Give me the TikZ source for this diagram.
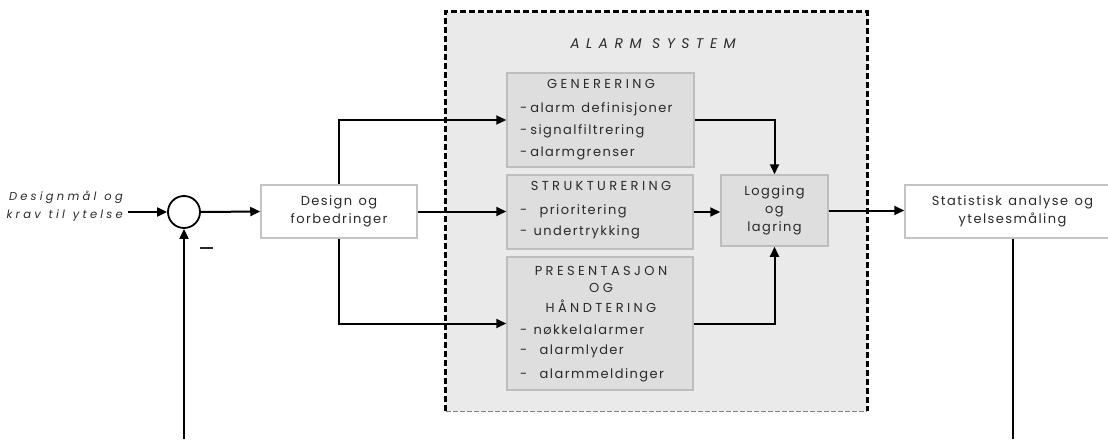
\documentclass[tikz,border=0pt]{standalone}
\usepackage{fontspec}
\setmainfont{Poppins}[LetterSpace=11,WordSpace=1.3]
\newfontfamily\capsfont{Poppins}[LetterSpace=26]
\newfontfamily\wideit{Poppins}[LetterSpace=28,WordSpace=1.2,ItalicFont=* Italic]
\newfontfamily\titleit{Poppins}[LetterSpace=46,ItalicFont=* Italic]
\usetikzlibrary{arrows.meta}
\definecolor{txt}{HTML}{2A2A2A}
\definecolor{outerfill}{HTML}{EAEAEA}
\definecolor{innerfill}{HTML}{DEDEDE}
\definecolor{innerline}{HTML}{BDBDBD}
\definecolor{wline}{HTML}{C4C4C4}
\begin{document}
\begin{tikzpicture}[x=1pt,y=-1pt,
  every node/.style={text=txt, font=\fontsize{13}{18}\selectfont},
  wbox/.style={draw=wline, line width=1.5pt, fill=white, inner sep=0pt, align=center},
  gbox/.style={draw=innerline, line width=1.5pt, fill=innerfill, inner sep=0pt},
  conn/.style={line width=2pt, -{Triangle[length=10pt,width=9pt]}},
  plain/.style={line width=2pt},
  item/.style={anchor=mid west, inner sep=0pt},
  ttl/.style={anchor=mid, inner sep=0pt, font=\fontsize{13}{18}\selectfont\capsfont}
]
\useasboundingbox (0,0) rectangle (1108,439);

% alarm system frame
\node[fill=outerfill, minimum width=421pt, minimum height=399pt, inner sep=0pt] (alarm) at (656.5,211.5) {};
\draw[line width=2.8pt, dash pattern=on 6pt off 3pt] (alarm.south west) -- (alarm.north west) -- (alarm.north east) -- (alarm.south east);
\draw[line width=0.6pt, gray, dash pattern=on 5pt off 2pt] (alarm.south west) -- (alarm.south east);
\node[anchor=mid, inner sep=0pt, font=\fontsize{14}{18}\selectfont\titleit\itshape] (atitle) at (653,46) {ALARM SYSTEM};

% boxes
\node[wbox, minimum width=156pt, minimum height=53pt] (design) at (339,211.5) {Design og\\forbedringer};
\node[wbox, minimum width=215pt, minimum height=53pt] (stat) at (1012.5,211.5) {Statistisk analyse og\\ytelsesmåling};
\node[gbox, minimum width=187pt, minimum height=94pt] (gen) at (600.5,120) {};
\node[gbox, minimum width=186pt, minimum height=74pt] (str) at (600,212) {};
\node[gbox, minimum width=186pt, minimum height=133pt] (pres) at (600,323.5) {};
\node[gbox, minimum width=107pt, minimum height=71pt, align=center] (log) at (774.5,210.5) {Logging\\og\\lagring};
\node[draw, line width=1.8pt, circle, minimum size=32pt, inner sep=0pt] (sum) at (184,212) {};

% box texts
\node[ttl] (genT) at (601,86) {GENERERING};
\node[ttl] (strT) at (601,188) {STRUKTURERING};
\node[ttl] (presT1) at (601,273) {PRESENTASJON};
\node[ttl] (presT2) at (601,290) {OG};
\node[ttl] (presT3) at (601,310) {HÅNDTERING};

\node[item] (gen1) at (520,110) {-\hspace{3pt}alarm definisjoner};
\node[item] (gen2) at (520,132) {-\hspace{3pt}signalfiltrering};
\node[item] (gen3) at (520,154) {-\hspace{3pt}alarmgrenser};

\node[item] (str1) at (520,212) {-\hspace{6pt} prioritering};
\node[item] (str2) at (520,233) {- undertrykking};

\node[item] (pres1) at (520,332) {- nøkkelalarmer};
\node[item] (pres2) at (520,352) {-\hspace{6pt} alarmlyder};
\node[item] (pres3) at (520,376) {-\hspace{6pt} alarmmeldinger};

% input text
\node[anchor=mid east, inner sep=0pt, align=right, font=\fontsize{11.5}{18}\selectfont\wideit\itshape] (inlbl) at (123,216) {Designmål og\\krav til ytelse};
\node[inner sep=0pt] (minus) at (206,248) {\rule{13pt}{1.8pt}};

% free ends
\coordinate (inp) at (128,212);
\coordinate (fb) at (184,439);
\coordinate (out) at (1012.5,439);

% connectors
\draw[conn] (inp) -- (sum.west);
\draw[conn] (sum.east) -- (design.west);
\draw[conn] (fb) -- (sum.south);
\draw[conn] (design.north) |- (gen.west);
\draw[conn] (design.south) |- (pres.west);
\draw[conn] (design.east) -- (design.east -| str.west);
\draw[conn] (gen.east) -| (log.north);
\draw[conn] (str.east) -- (str.east -| log.west);
\draw[conn] (pres.east) -| (log.south);
\draw[conn] (log.east) -- (log.east -| stat.west);
\draw[plain] (stat.south) -- (out);
\end{tikzpicture}
\end{document}
